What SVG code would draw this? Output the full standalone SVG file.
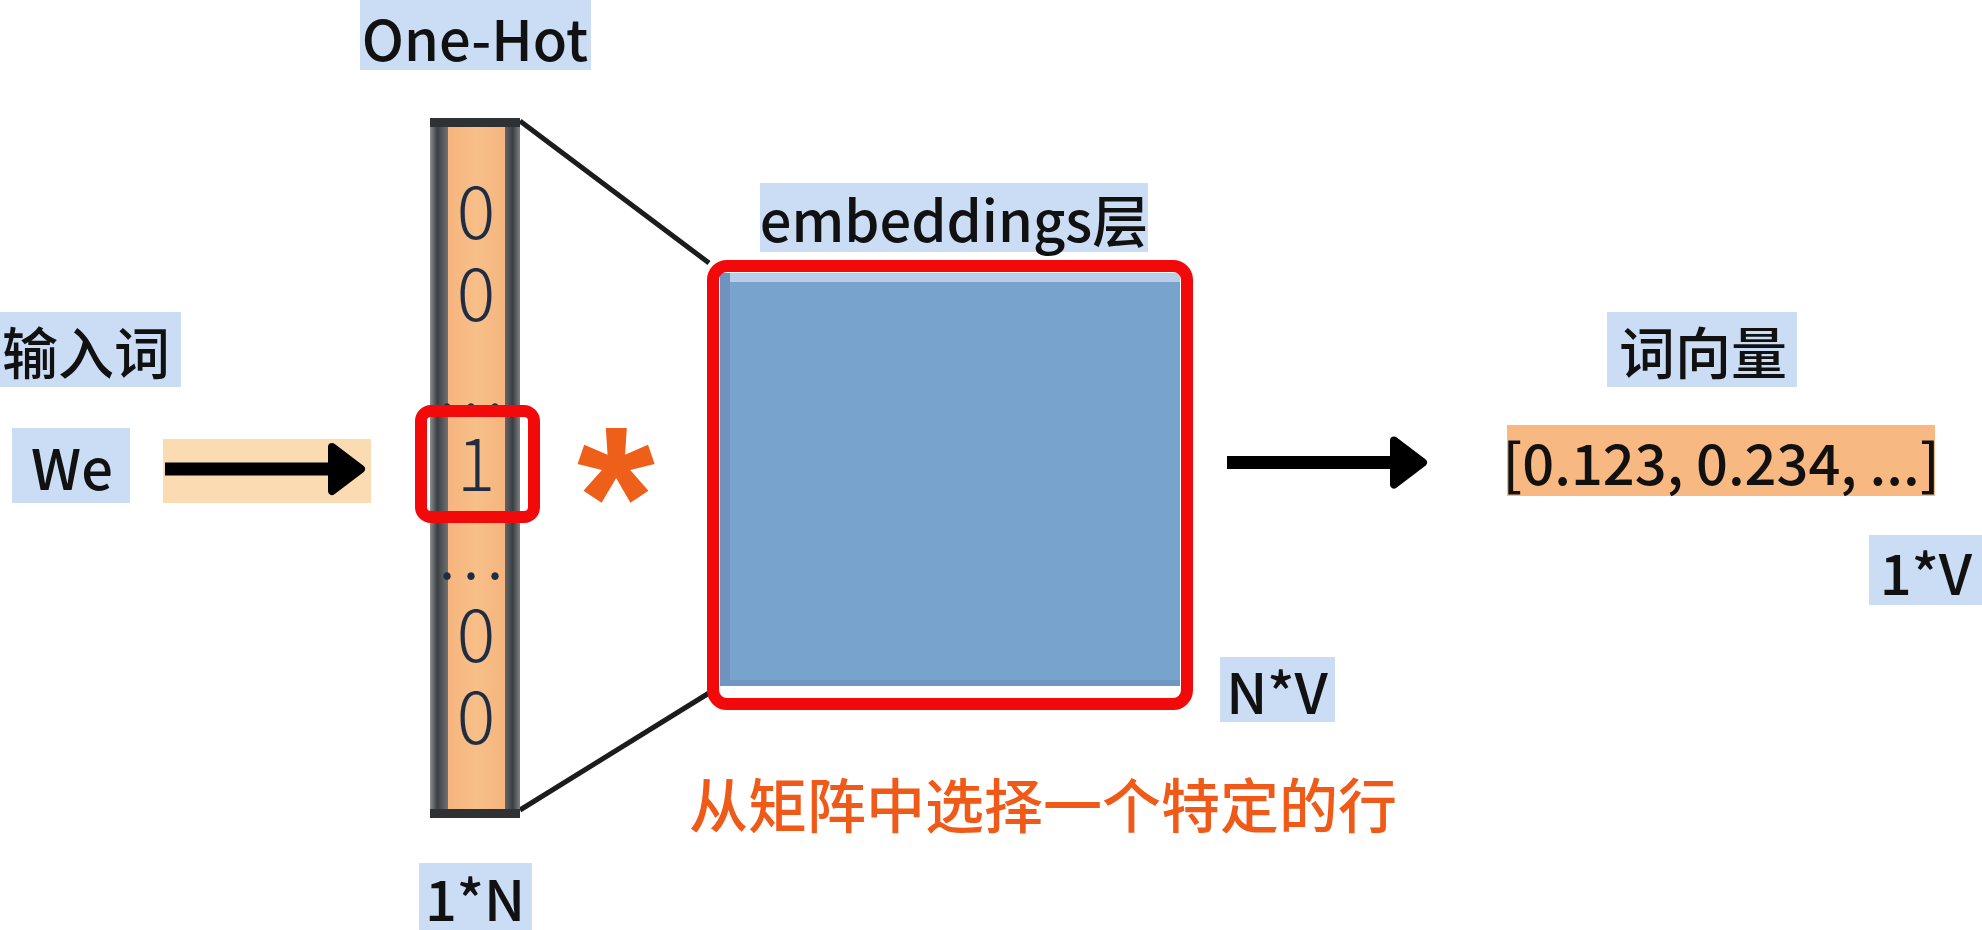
<svg xmlns="http://www.w3.org/2000/svg" width="1982" height="930" viewBox="0 0 1982 930">
<style>
.lbl{fill:#cbdcf5}
.t{font-family:"Noto Sans CJK SC","Noto Sans",sans-serif;font-size:56px;font-weight:500;fill:#111;text-anchor:middle;dominant-baseline:central}
.dg{font-family:"Noto Sans CJK SC","Noto Sans",sans-serif;font-size:72px;font-weight:300;fill:#1e2d44;text-anchor:middle}
.conn{stroke:#1c1c1c;stroke-width:5;fill:none}
.arr{stroke:#000;stroke-width:13;fill:none}
.sel{fill:none;stroke:#f20a0a;stroke-width:12}
</style>
<defs>
<marker id="ah" markerUnits="userSpaceOnUse" markerWidth="40" markerHeight="54" viewBox="0 0 40 54" refX="11" refY="27" orient="auto">
<path d="M5,5 L34,27 L5,49 Z" fill="#000" stroke="#000" stroke-width="8" stroke-linejoin="round"/>
</marker>
<linearGradient id="colg" x1="0" y1="0" x2="1" y2="0">
<stop offset="0" stop-color="#8c8e90"/>
<stop offset="0.08" stop-color="#3b3f43"/>
<stop offset="0.2" stop-color="#6f7275"/>
<stop offset="0.8" stop-color="#6f7275"/>
<stop offset="0.92" stop-color="#3b3f43"/>
<stop offset="1" stop-color="#808284"/>
</linearGradient>
<linearGradient id="og" x1="0" y1="0" x2="1" y2="0">
<stop offset="0" stop-color="#f6b47e"/>
<stop offset="0.5" stop-color="#f8bf88"/>
<stop offset="1" stop-color="#f6b47e"/>
</linearGradient>
</defs>

<g id="arrow-bg">
<rect x="163" y="439" width="208" height="64" fill="#fbdcb2"/>
</g>

<g id="connectors">
<line class="conn" x1="520" y1="121" x2="709" y2="263"/>
<line class="conn" x1="520" y1="810" x2="709" y2="693"/>
<line class="arr" x1="165" y1="469" x2="338" y2="469" marker-end="url(#ah)"/>
<line class="arr" x1="1227" y1="462.5" x2="1400" y2="462.5" marker-end="url(#ah)"/>
</g>

<g id="onehot-label">
<rect class="lbl" x="360" y="0" width="231" height="70"/>
<text class="t" x="475" y="36">One-Hot</text>
</g>

<g id="input-label">
<rect class="lbl" x="0" y="312" width="181" height="75"/>
<text class="t" x="86" y="349">输入词</text>
</g>

<g id="we">
<rect class="lbl" x="12" y="428" width="118" height="75"/>
<text class="t" x="72" y="465">We</text>
</g>

<g id="onehot-vector">
<rect x="430" y="118" width="90" height="700" fill="url(#colg)"/>
<rect x="448" y="127" width="57" height="682" fill="url(#og)"/>
<rect x="430" y="118" width="90" height="9" fill="#2f3235"/>
<rect x="430" y="809" width="90" height="9" fill="#2f3235"/>
<text class="dg"><tspan x="476" y="239">0</tspan><tspan x="476" y="321">0</tspan><tspan x="474" y="410" letter-spacing="6">...</tspan><tspan x="476" y="491">1</tspan><tspan x="474" y="579" letter-spacing="6">...</tspan><tspan x="476" y="662">0</tspan><tspan x="476" y="744">0</tspan></text>
</g>

<g id="selected-cell">
<rect class="sel" x="421" y="411" width="113" height="106" rx="10"/>
</g>

<g id="multiply">
<text x="616" y="566" font-family="Liberation Sans, Arial, sans-serif" font-weight="bold" font-size="200" fill="#ee5f1a" text-anchor="middle">*</text>
</g>

<g id="embedding-label">
<rect class="lbl" x="760" y="183" width="388" height="69"/>
<text class="t" x="954" y="217">embeddings层</text>
</g>

<g id="embedding-matrix">
<rect x="720" y="273" width="460" height="413" fill="#77a3cd"/>
<rect x="720" y="273" width="460" height="9" fill="#b8cde6"/>
<rect x="720" y="273" width="10" height="413" fill="#6e94be"/>
<rect x="720" y="680" width="460" height="6" fill="#6f97c2"/>
<rect class="sel" x="713" y="266" width="474" height="438" rx="14"/>
</g>

<g id="nv-label">
<rect class="lbl" x="1220" y="657" width="115" height="65"/>
<text class="t" x="1277" y="689">N*V</text>
</g>

<g id="word-vector-label">
<rect class="lbl" x="1607" y="312" width="190" height="75"/>
<text class="t" x="1703" y="349">词向量</text>
</g>

<g id="word-vector">
<rect x="1507" y="425" width="428" height="71" fill="#f7b882"/>
<text class="t" x="1721" y="460">[0.123, 0.234, ...]</text>
</g>

<g id="v-label">
<rect class="lbl" x="1869" y="535" width="113" height="70"/>
<text class="t" x="1926" y="570">1*V</text>
</g>

<g id="n-label">
<rect class="lbl" x="419" y="863" width="113" height="67"/>
<text class="t" x="475" y="896">1*N</text>
</g>

<g id="caption">
<text x="1043" y="802" font-family="Noto Sans CJK SC, sans-serif" font-size="59" font-weight="500" fill="#ef5a18" text-anchor="middle" dominant-baseline="central">从矩阵中选择一个特定的行</text>
</g>
</svg>
